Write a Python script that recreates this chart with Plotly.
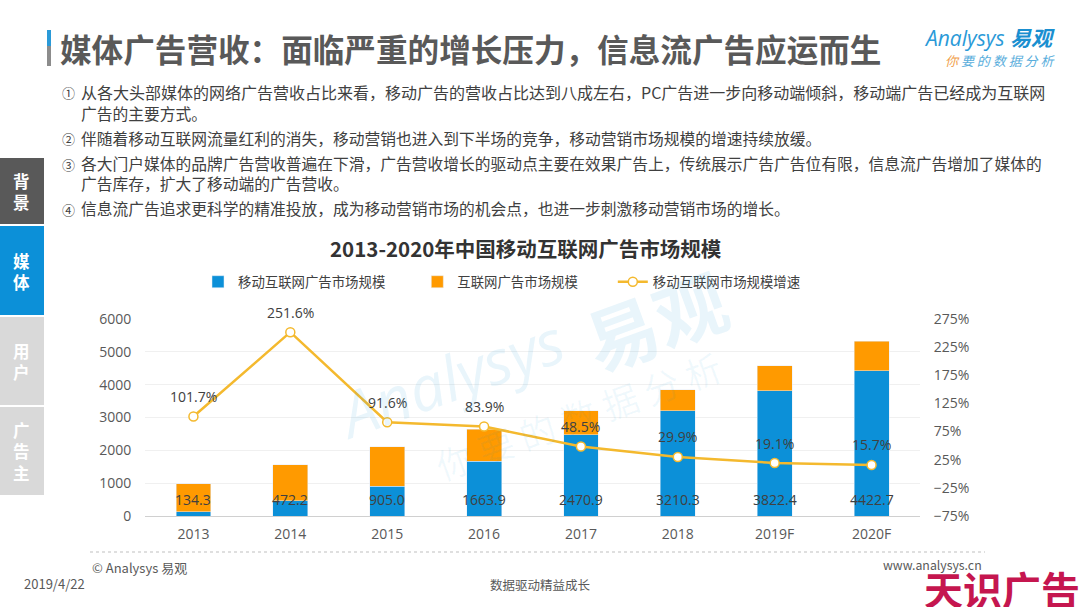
import plotly.graph_objects as go
import pandas as pd

FONT = 'Open Sans, Noto Sans CJK SC, sans-serif'
CJK = 'Noto Sans CJK SC, sans-serif'

# Valores
dados = pd.DataFrame({
    'ano': ['2013', '2014', '2015', '2016', '2017', '2018', '2019F', '2020F'],
    'movel': [134.3, 472.2, 905.0, 1663.9, 2470.9, 3210.3, 3822.4, 4422.7],
    'internet': [842, 1084, 1209, 980, 732, 633, 753, 894],
    'crescimento': [101.7, 251.6, 91.6, 83.9, 48.5, 29.9, 19.1, 15.7],
})

fig = go.Figure()

# Os nbsp no fim dos nomes abrem o espaço entre os itens da legenda
fig.add_trace(go.Bar(x=dados['ano'], y=dados['movel'], name='移动互联网广告市场规模' + '\u00a0' * 9,
                     marker_color='#0C90D8', width=0.36))
fig.add_trace(go.Bar(x=dados['ano'], y=dados['internet'], name='互联网广告市场规模' + '\u00a0' * 10,
                     marker_color='#FF9A00', width=0.36))
fig.add_trace(go.Scatter(x=dados['ano'], y=dados['crescimento'], name='移动互联网市场规模增速',
                         yaxis='y2', mode='lines+markers',
                         line=dict(color='#F4B92E', width=2.5),
                         marker=dict(size=9, color='white', line=dict(color='#F4B92E', width=1.5))))

anotacoes = []

# Rótulos de dados (x pelo índice da categoria)
for i, linha in dados.iterrows():
    anotacoes.append(dict(x=i, y=488, xref='x', yref='y', showarrow=False,
                          text=f"{linha['movel']:.1f}", font=dict(family=FONT, size=14, color='#404040')))
    anotacoes.append(dict(x=i, y=linha['crescimento'], xref='x', yref='y2', yshift=20,
                          showarrow=False, text=f"{linha['crescimento']:.1f}%",
                          font=dict(family=FONT, size=14, color='#404040')))


def texto(x, y, s, size=15.75, color='#404040', anchor='left', family=CJK, **kw):
    anotacoes.append(dict(x=x, y=y, xref='paper', yref='paper', xanchor=anchor, yanchor='middle',
                          showarrow=False, align=anchor, text=s, borderpad=0, borderwidth=0,
                          font=dict(family=family, size=size, color=color), **kw))


# Coordenadas de pixel para a fração do papel
L, R, T, B = 145, 160, 319, 91
def px(x):
    return (x - L) / (1080 - L - R)
def py(y):
    return (607 - B - y) / (607 - T - B)


# Marca d'água
azul_agua = 'rgba(12,144,216,0.09)'
texto(px(450), py(377), '<i>Analysys</i>', 62, azul_agua, 'center', FONT, textangle=-20)
texto(px(655), py(318), '<b>易观</b>', 72, azul_agua, 'center', textangle=-20)
texto(px(578), py(415), '你 要 的 数 据 分 析', 36, 'rgba(12,144,216,0.06)', 'center', textangle=-20)

# Título e textos
texto(px(60), py(48), '<b>媒体广告营收：面临严重的增长压力，信息流广告应运而生</b>', 31.6, '#595959')
texto(px(81), py(92), '从各大头部媒体的网络广告营收占比来看，移动广告的营收占比达到八成左右，PC广告进一步向移动端倾斜，移动端广告已经成为互联网', 16)
linhas = [
    (113, '广告的主要方式。'),
    (139, '伴随着移动互联网流量红利的消失，移动营销也进入到下半场的竞争，移动营销市场规模的增速持续放缓。'),
    (163, '各大门户媒体的品牌广告营收普遍在下滑，广告营收增长的驱动点主要在效果广告上，传统展示广告广告位有限，信息流广告增加了媒体的'),
    (183, '广告库存，扩大了移动端的广告营收。'),
    (208, '信息流广告追求更科学的精准投放，成为移动营销市场的机会点，也进一步刺激移动营销市场的增长。'),
]
for y, s in linhas:
    texto(px(81), py(y), s)
for y, s in [(93, '①'), (139, '②'), (164, '③'), (209, '④')]:
    texto(px(68), py(y), s, 13, '#404040', 'center')
texto(px(526), py(248), '<b>2013-2020年中国移动互联网广告市场规模</b>', 20.5, '#333333', 'center')

# Menu lateral
for y, s, cor in [(191, '<b>背<br>景</b>', 'white'), (271, '<b>媒<br>体</b>', 'white'),
                  (361, '<b>用<br>户</b>', 'white'), (451, '<b>广<br>告<br>主</b>', 'white')]:
    texto(px(22), py(y), s, 16.5, cor, 'center')

# Logo
texto(px(1055), py(38), '<span style="color:#2A9AD8"><i>Analysys</i></span> <b><i>易观</i></b>', 21, '#1A8FD0', 'right', FONT)
texto(px(1055), py(60), '<span style="color:#F0A04B"><i>你</i></span><i> 要 的 数 据 分 析</i>', 13, '#5AAEDC', 'right')

# Rodapé
texto(px(92), py(567), '© Analysys 易观', 13, '#595959')
texto(px(982), py(565), 'www.analysys.cn', 12.3, '#595959', 'right')
texto(px(24), py(583), '2019/4/22', 13, '#595959')
texto(px(540), py(584), '数据驱动精益成长', 12.5, '#595959', 'center')
texto(px(1080), py(588), '<b>天识广告</b>', 39, '#C5164F', 'right')

def ret(x0, y0, x1, y1, cor):
    return dict(type='rect', xref='paper', yref='paper', x0=px(x0), x1=px(x1), y0=py(y0), y1=py(y1),
                fillcolor=cor, line_width=0, layer='below')


formas = [
    ret(47, 30, 51, 46, '#2A9AD8'),
    ret(47, 46, 51, 66, '#8C8C8C'),
    ret(0, 158, 44, 224, '#595959'),
    ret(0, 226, 44, 315, '#0C90D8'),
    ret(0, 317, 44, 405, '#D9D9D9'),
    ret(0, 407, 44, 495, '#D9D9D9'),
    dict(type='line', xref='paper', yref='paper', x0=px(90), x1=px(985), y0=py(552), y1=py(552),
         line=dict(color='#BFBFBF', width=1, dash='dot')),
]

fig.update_layout(
    width=1080, height=607, autosize=False,
    barmode='stack', bargap=0.64,
    margin=dict(l=L, r=R, t=T, b=B, autoexpand=False),
    paper_bgcolor='white', plot_bgcolor='white',
    font=dict(family=FONT, size=14, color='#595959'),
    annotations=anotacoes, shapes=formas,
    legend=dict(orientation='h', x=px(198), xanchor='left', y=py(282), yanchor='middle',
                font=dict(family=CJK, size=13.4, color='#404040'),
                traceorder='normal'),
    xaxis=dict(type='category', range=[-0.5, 7.5], showgrid=False, showline=True, linecolor='#D0D0D0',
               ticks='outside', ticklen=5, tickcolor='rgba(0,0,0,0)'),
    yaxis=dict(range=[0, 6000], dtick=1000, gridcolor='#F0F0F0', zeroline=False,
               ticks='outside', ticklen=10, tickcolor='rgba(0,0,0,0)'),
    yaxis2=dict(range=[-75, 275], dtick=50, tick0=-75, overlaying='y', side='right', showgrid=False,
                zeroline=False, ticksuffix='%',
                ticks='outside', ticklen=10, tickcolor='rgba(0,0,0,0)'),
)

# Sem a margem padrão do body a página fica em 1080x607 exatos
fig.write_html("out.html", post_script="document.body.style.margin='0';",
               config={'displayModeBar': False})
